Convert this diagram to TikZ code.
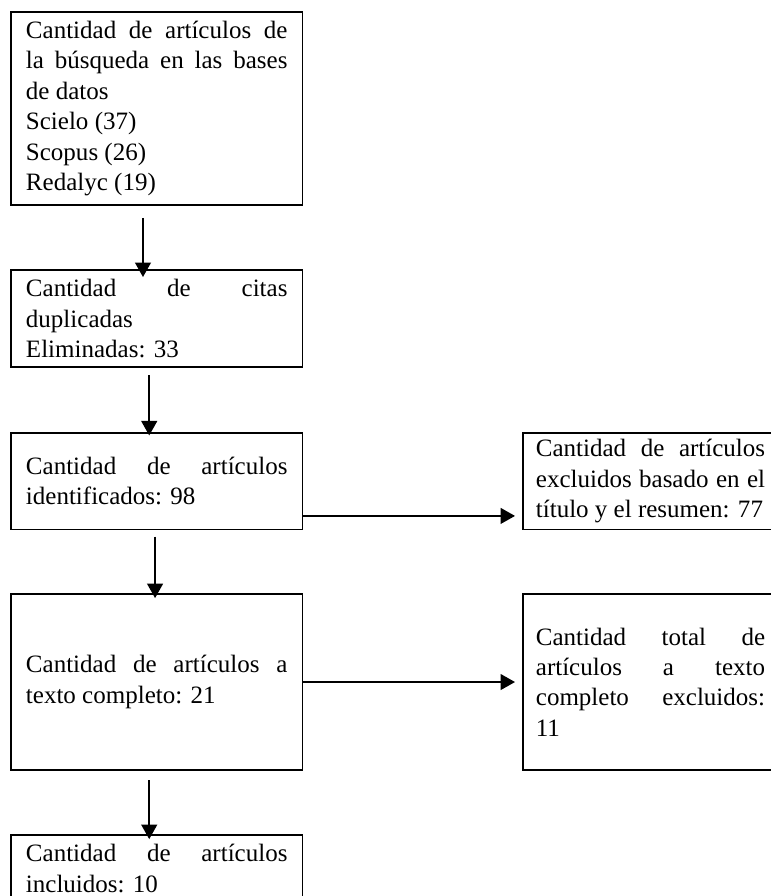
\documentclass[tikz,border=0pt]{standalone}
\usepackage{fontspec}
\setmainfont{Liberation Serif}
\usetikzlibrary{arrows.meta}
\hyphenpenalty=10000
\hbadness=10000

\begin{document}
\begin{tikzpicture}[x=0.48pt, y=-0.48pt,
        box/.style={draw=black, line width=0.9pt, anchor=north west, inner xsep=7.2pt, inner ysep=3pt, outer sep=0pt,
            text width=125.5pt, align=justify, font=\fontsize{12}{14.6}\selectfont},
        sidebox/.style={box, inner xsep=6.2pt, text width=110pt},
        arrow/.style={-{Triangle[width=7.5pt,length=7pt]}, line width=1.2pt}]
        \useasboundingbox (0,0) rectangle (771,896);

        % Main column
        \node[box, minimum height=92.6pt] (srch) at (11,12) {Cantidad de artículos de\linebreak la búsqueda en las bases\linebreak de datos\\Scielo (37)\\Scopus (26)\\Redalyc (19)};
        \node[box, minimum height=46.6pt] (dup) at (11,270) {Cantidad de citas\linebreak duplicadas\\Eliminadas: 33};
        \node[box, minimum height=46.3pt] (ident) at (11,433) {Cantidad de artículos\linebreak identificados: 98};
        \node[box, minimum height=84.5pt] (full) at (11,594) {Cantidad de artículos a\linebreak texto completo: 21};
        \node[box, minimum height=32pt] (incl) at (11,835) {Cantidad de artículos\linebreak incluidos: 10};

        % Excluded boxes
        \node[sidebox, minimum height=46.3pt] (excl) at (523,433) {Cantidad de artículos\linebreak excluidos basado en el\linebreak título y el resumen: 77};
        \node[sidebox, minimum height=84.5pt] (exclfull) at (523,594) {Cantidad total de\linebreak artículos a texto\linebreak completo excluidos:\linebreak 11};

        % Connections
        \draw[arrow] ([xshift=-6.6pt, yshift=-6.2pt]srch.south) -- ([xshift=-6.6pt, yshift=-3.4pt]dup.north);
        \draw[arrow] ([xshift=-3.6pt, yshift=-3.8pt]dup.south) -- ([xshift=-3.6pt, yshift=-1.2pt]ident.north);
        \draw[arrow] ([xshift=-0.8pt, yshift=-3.4pt]ident.south) -- ([xshift=-0.8pt, yshift=-2pt]full.north);
        \draw[arrow] ([xshift=-3.6pt, yshift=-4.8pt]full.south) -- ([xshift=-3.6pt, yshift=-2pt]incl.north);
        \draw[arrow] ([yshift=6.5pt]ident.south east) -- ([xshift=-3.8pt, yshift=6.5pt]excl.south west);
        \draw[arrow] (full.east) -- ([xshift=-3.8pt]exclfull.west);
    \end{tikzpicture}
\end{document}
